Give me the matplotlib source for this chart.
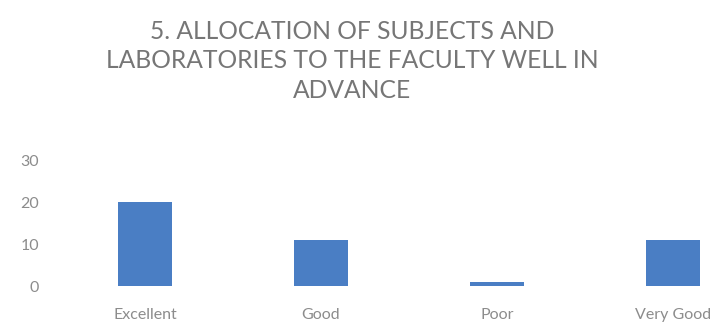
import matplotlib
matplotlib.use("Agg")
import matplotlib.pyplot as plt

categories = ["Excellent", "Good", "Poor", "Very Good"]
values = [20, 11, 1, 11]
yticks = [0, 10, 20, 30]
title = "5. ALLOCATION OF SUBJECTS AND\nLABORATORIES TO THE FACULTY WELL IN\nADVANCE"

plt.rcParams['font.family'] = ['Lato', 'DejaVu Sans']

fig = plt.figure(figsize=(7.2, 3.26), dpi=100)
ax = fig.add_axes([57/720, 1-286/326, (761-57)/720, (286-160)/326])
x = range(len(categories))
ax.bar(x, values, width=0.31, color='#4A7EC4')
ax.set_ylim(0, 30)
ax.set_xlim(-0.5, len(categories)-0.5)
ax.set_yticks(yticks)
ax.set_xticks(list(x))
ax.set_xticklabels(categories)
for s in ax.spines.values():
    s.set_visible(False)
ax.tick_params(axis='both', length=0, colors='#8C8C8C', labelsize=11.5)
ax.tick_params(axis='x', pad=16)
ax.tick_params(axis='y', pad=13)

fig.text(352/720, 1-61/326, title, ha='center', va='center', fontsize=17.7,
         color='#767676', linespacing=1.33)

fig.savefig("out.png", dpi=100)
